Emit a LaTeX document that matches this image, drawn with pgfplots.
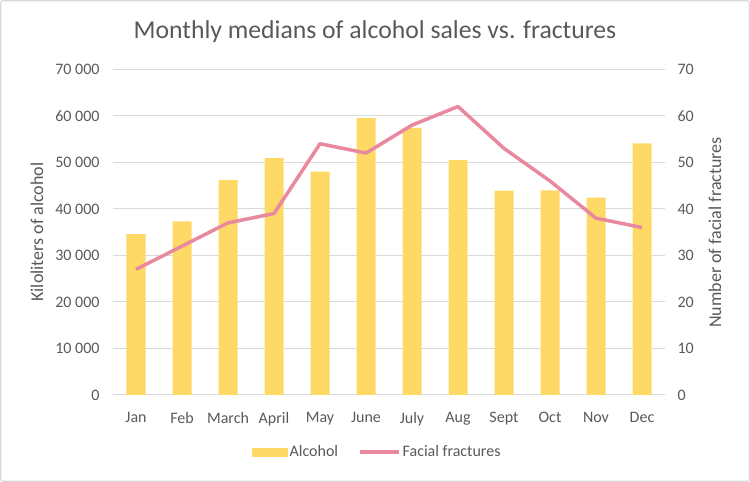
\documentclass[border=0pt]{standalone}
\usepackage{pgfplots}
\pgfplotsset{compat=1.18}
\usepackage{fontspec}
\setmainfont{Carlito}
\definecolor{barc}{HTML}{FFD966}
\definecolor{linec}{HTML}{E8899F}
\definecolor{txt}{HTML}{595959}
\definecolor{gridc}{HTML}{D9D9D9}
\pgfplotstableread{
x alc frac
0 34600 27
1 37300 32
2 46200 37
3 50900 39
4 48000 54
5 59500 52
6 57400 58
7 50500 62
8 43900 53
9 44000 46
10 42400 38
11 54100 36
}\datatab
\begin{document}
\begin{tikzpicture}
\path[use as bounding box] (0,0) rectangle (750pt,482pt);
\draw[color=gridc, line width=1.2pt, rounded corners=2pt] (0.8pt,0.8pt) rectangle (749.2pt,481.2pt);
\pgfplotsset{
  common/.style={
    at={(113pt,87pt)}, anchor=south west, scale only axis,
    width=552pt, height=325.7pt,
    xmin=-0.5, xmax=11.5, ymin=0,
    tick style={draw=none},
    scaled y ticks=false,
    ticklabel style={font=\fontsize{16}{19}\selectfont, text=txt},
  }
}
\begin{axis}[common,
  ymax=70000,
  ytick={0,10000,20000,30000,40000,50000,60000,70000},
  yticklabels={0,{10 000},{20 000},{30 000},{40 000},{50 000},{60 000},{70 000}},
  xtick={0,...,11},
  xticklabels={Jan,Feb,March,April,May,June,July,Aug,Sept,Oct,Nov,Dec},
  xticklabel style={yshift=-14pt},
  yticklabel style={xshift=-10pt},
  ymajorgrids, grid style={gridc, line width=1pt},
  axis x line*=bottom, x axis line style={draw=gridc, line width=1pt},
  axis y line*=left, y axis line style={draw=none},
]
\addplot[ybar, bar width=19pt, bar shift=0pt, fill=barc, draw=none] table[x=x,y=alc] {\datatab};
\end{axis}
\begin{axis}[common,
  ymax=70,
  axis x line=none,
  axis y line*=right, y axis line style={draw=none},
  ytick={0,10,...,70},
  yticklabels={0,10,20,30,40,50,60,70},
  yticklabel style={xshift=9pt},
  legend columns=2,
  legend style={at={(0.479,-0.175)}, anchor=center, draw=none, fill=none,
    font=\fontsize{16}{19}\selectfont, text=txt,
    /tikz/every even column/.append style={column sep=18pt},
    nodes={inner sep=2pt}},
]
\addlegendimage{legend image code/.code={\fill[barc] (0pt,-4pt) rectangle (35pt,4pt);}}
\addlegendentry{Alcohol}
\addplot[linec, line width=3.5pt, line join=round, mark=none,
  legend image code/.code={\draw[linec, line width=3.5pt] (0pt,0pt) -- (39pt,0pt);}]
  table[x=x,y=frac] {\datatab};
\addlegendentry{Facial fractures}
\end{axis}
\node[anchor=base, text=txt, font=\fontsize{25.7}{30}\selectfont] at (375pt,443.7pt) {Monthly medians of alcohol sales vs. fractures};
\node[rotate=90, text=txt, font=\fontsize{18}{21}\selectfont] at (37pt,250pt) {Kiloliters of alcohol};
\node[rotate=90, text=txt, font=\fontsize{18}{21}\selectfont] at (715pt,249.5pt) {Number of facial fractures};
\end{tikzpicture}
\end{document}
